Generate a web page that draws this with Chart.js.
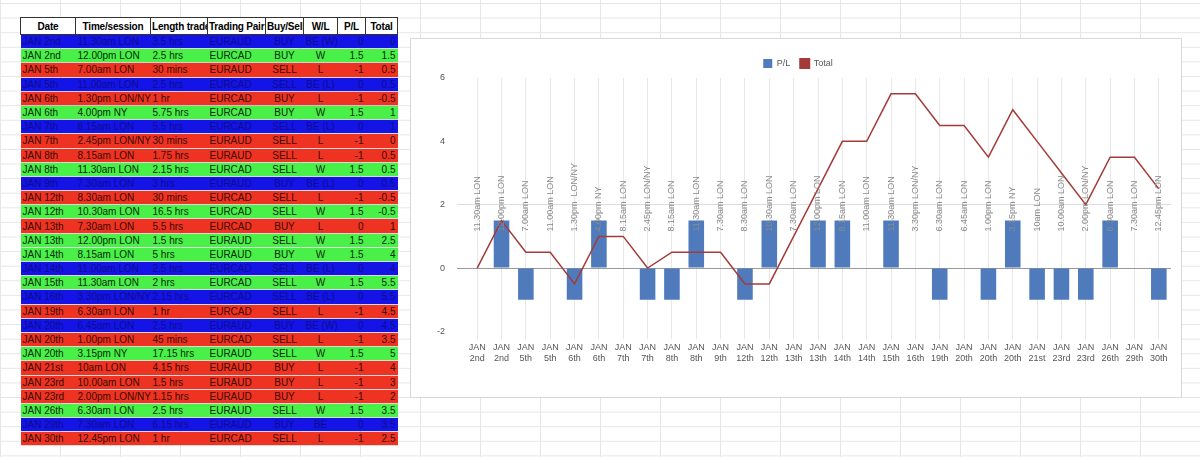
<!DOCTYPE html>
<html><head><meta charset="utf-8">
<script src="https://cdn.jsdelivr.net/npm/chart.js@4"></script>
<style>
body{margin:0;width:1200px;height:457px;background:#fff;position:relative;overflow:hidden;font-family:"Liberation Sans",Arial,sans-serif;
background-image:linear-gradient(#e6e6e6 1px,transparent 1px),linear-gradient(90deg,#e6e6e6 1px,transparent 1px);background-size:60px 14.6px;background-position:0 3px}
table{position:absolute;left:20px;top:17px;border-collapse:collapse;font-size:10px;width:377px;table-layout:fixed}
td,th{padding:0 2px;height:13.2px;line-height:13px;white-space:nowrap;overflow:hidden;border-bottom:1px solid rgba(0,0,0,.15)}
th{background:#fff;border:1px solid #333;height:16px;font-size:10px;font-family:"Liberation Sans Narrow","Liberation Sans",Arial;padding:0 1px;letter-spacing:-0.2px}
.b td{background:#1414e6;color:#0c0c90}.g td{background:#48f048;color:#0a2a0a}.r td{background:#ee3322;color:#3a0a00}
td.c{text-align:center}td.n{text-align:right}
#box{position:absolute;left:410px;top:38px;width:770px;height:358px;background:#fff;border:1px solid #d8d8d8}
</style></head><body>
<table id="t"><colgroup><col style="width:55px"><col style="width:75px"><col style="width:57px"><col style="width:58px"><col style="width:38px"><col style="width:34px"><col style="width:28px"><col style="width:32px"></colgroup>
<thead><tr><th>Date</th><th>Time/session</th><th>Length trade</th><th>Trading Pair</th><th>Buy/Sell</th><th>W/L</th><th>P/L</th><th>Total</th></tr></thead><tbody></tbody></table>
<div id="box"><canvas id="c" width="770" height="358"></canvas></div>
<script>
const dates=["JAN 2nd","JAN 2nd","JAN 5th","JAN 5th","JAN 6th","JAN 6th","JAN 7th","JAN 7th","JAN 8th","JAN 8th","JAN 9th","JAN 12th","JAN 12th","JAN 13th","JAN 13th","JAN 14th","JAN 14th","JAN 15th","JAN 16th","JAN 19th","JAN 20th","JAN 20th","JAN 20th","JAN 21st","JAN 23rd","JAN 23rd","JAN 26th","JAN 29th","JAN 30th"];
const times=["11.30am LON","12.00pm LON","7.00am LON","11.00am LON","1.30pm  LON/NY","4.00pm NY","8.15am LON","2.45pm LON/NY","8.15am LON","11.30am LON","7.30am LON","8.30am LON","10.30am LON","7.30am LON","12.00pm LON","8.15am LON","11.00am LON","11.30am LON","3.30pm LON/NY","6.30am LON","6.45am LON","1.00pm LON","3.15pm NY","10am LON","10.00am LON","2.00pm LON/NY","6.30am LON","7.30am LON","12.45pm LON"];
const lengths=["3.5 hrs","2.5 hrs","30 mins","2.5 hrs","1 hr","5.75 hrs","5.5 hrs","30 mins","1.75 hrs","2.15 hrs","3 hrs","30 mins","16.5 hrs","5.5 hrs","1.5 hrs","5 hrs","2.5 hrs","2 hrs","2.15 hrs","1 hr","2.5 hrs","45 mins","17.15 hrs","4.15 hrs","1.5 hrs","1.15 hrs","2.5 hrs","6.15 hrs","1 hr"];
const pairs=["EURAUD","EURCAD","EURAUD","EURCAD","EURCAD","EURCAD","EURCAD","EURAUD","EURAUD","EURCAD","EURAUD","EURCAD","EURCAD","EURCAD","EURAUD","EURAUD","EURCAD","EURCAD","EURCAD","EURCAD","EURAUD","EURCAD","EURAUD","EURAUD","EURAUD","EURAUD","EURAUD","EURAUD","EURCAD"];
const sides=["BUY","BUY","SELL","SELL","BUY","BUY","SELL","SELL","SELL","SELL","BUY","SELL","SELL","BUY","SELL","BUY","SELL","SELL","SELL","SELL","BUY","SELL","SELL","BUY","BUY","BUY","SELL","BUY","SELL"];
const wl=["BE (W)","W","L","BE (L)","L","W","BE (L)","L","L","W","BE (L)","L","W","L","W","W","BE (L)","W","BE (L)","L","BE (W)","L","W","L","L","L","W","BE","L"];
const pl=[0,1.5,-1,0,-1,1.5,0,-1,-1,1.5,0,-1,1.5,0,1.5,1.5,0,1.5,0,-1,0,-1,1.5,-1,-1,-1,1.5,0,-1];
const total=[0,1.5,0.5,0.5,-0.5,1,1,0,0.5,0.5,0.5,-0.5,-0.5,1,2.5,4,4,5.5,5.5,4.5,4.5,3.5,5,4,3,2,3.5,3.5,2.5];
const yTicks=[-2,0,2,4,6];

const tb=document.querySelector('#t tbody');
dates.forEach((d,i)=>{const cls=wl[i].startsWith('BE')?'b':wl[i]==='W'?'g':'r';
const tr=document.createElement('tr');tr.className=cls;
tr.innerHTML=`<td>${d}</td><td>${times[i]}</td><td>${lengths[i]}</td><td>${pairs[i]}</td><td class="c">${sides[i]}</td><td class="c">${wl[i]}</td><td class="n">${pl[i]}</td><td class="n">${total[i]}</td>`;tb.appendChild(tr);});

const timeLabels={id:'tl',afterDatasetsDraw(ch){const m=ch.getDatasetMeta(0),y=ch.scales.y.getPixelForValue(1.15),c=ch.ctx;
c.save();c.fillStyle='#8a8a8a';c.font='9px "Liberation Sans",Arial';c.textAlign='left';c.textBaseline='middle';
m.data.forEach((b,i)=>{c.save();c.translate(b.x,y);c.rotate(-Math.PI/2);c.fillText(times[i],0,0);c.restore();});c.restore();}};

new Chart(document.getElementById('c'),{
data:{labels:dates.map(d=>d.split(' ')),datasets:[
{type:'bar',label:'P/L',data:pl,backgroundColor:'#4f7bbd',categoryPercentage:1,barPercentage:0.64,order:2},
{type:'line',label:'Total',data:total,borderColor:'#a33b38',backgroundColor:'#a33b38',borderWidth:1.5,pointRadius:0,tension:0,fill:false,order:1}]},
options:{responsive:false,animation:false,devicePixelRatio:1,
layout:{padding:{left:14,right:10,top:10,bottom:30}},
plugins:{legend:{labels:{boxWidth:9,boxHeight:9,font:{size:9},color:'#555',sort:(a,b)=>a.datasetIndex-b.datasetIndex,
generateLabels:ch=>Chart.defaults.plugins.legend.labels.generateLabels(ch).map(l=>l.datasetIndex===1?Object.assign(l,{pointStyle:'line',lineWidth:2}):l),usePointStyle:false}},tooltip:{enabled:false}},
scales:{x:{grid:{color:'#e8e8e8',offset:false},border:{display:false},ticks:{maxRotation:0,autoSkip:false,font:{size:9},color:'#555'}},
y:{min:-2,max:6,afterBuildTicks:a=>{a.ticks=yTicks.map(v=>({value:v}))},grid:{color:v=>v.tick.value===0?'#999':(v.tick.value===2?'#ddd':'transparent')},border:{display:false},ticks:{font:{size:9},color:'#555',padding:12}}}},
plugins:[timeLabels]});
</script>
</body></html>
